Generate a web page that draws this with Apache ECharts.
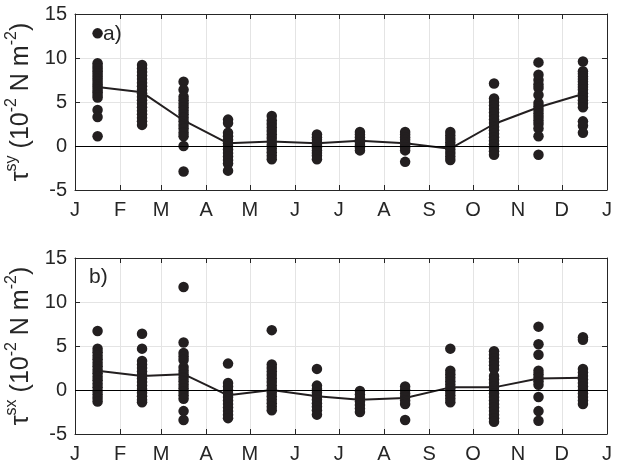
<!DOCTYPE html>
<html>
<head>
<meta charset="utf-8">
<script src="https://cdn.jsdelivr.net/npm/echarts@6/dist/echarts.min.js"></script>
<style>
  html, body { margin: 0; padding: 0; background: #ffffff; }
  #chart { width: 621px; height: 465px; }
</style>
</head>
<body>
<div id="chart"></div>
<script>
// Day-of-year axis: month boundaries carry the ticks, labels and grid lines
const monthStarts = [0, 31, 59, 90, 120, 151, 181, 212, 243, 273, 304, 334, 365];
const monthLabels = ['J', 'F', 'M', 'A', 'M', 'J', 'J', 'A', 'S', 'O', 'N', 'D', 'J'];
// Mid-month day at which each month's samples are plotted
const monthMid = [15.5, 46, 74.5, 105, 135, 166, 195.5, 226.5, 257.5, 287.5, 318, 348.5];
const yTicks = [-5, 0, 5, 10, 15];

// a) meridional wind stress samples per month (10^-2 N m^-2)
const tauSy = [
  [12.8, 9.4, 9.1, 8.8, 8.5, 8.2, 7.9, 7.6, 7.3, 7.0, 6.7, 6.4, 6.1, 5.8, 5.5, 4.1, 3.3, 1.1],
  [9.2, 8.8, 8.4, 8.0, 7.6, 7.2, 6.8, 6.4, 6.0, 5.6, 5.2, 4.8, 4.4, 4.0, 3.6, 3.2, 2.8, 2.4],
  [7.3, 6.4, 5.6, 5.2, 4.8, 4.4, 4.0, 3.6, 3.2, 2.8, 2.4, 2.0, 1.5, 1.1, 0.0, -2.9],
  [3.0, 2.6, 1.5, 1.1, 0.7, 0.3, 0.0, -0.4, -0.8, -1.2, -1.6, -2.0, -2.8],
  [3.4, 2.9, 2.5, 2.1, 1.7, 1.3, 0.9, 0.5, 0.1, -0.3, -0.7, -1.1, -1.5],
  [1.3, 1.0, 0.7, 0.4, 0.1, -0.2, -0.5, -0.8, -1.1, -1.5],
  [1.6, 1.3, 1.0, 0.7, 0.4, 0.1, -0.2, -0.5],
  [1.6, 1.3, 1.0, 0.7, 0.4, 0.1, -0.2, -0.5, -1.8],
  [1.6, 1.2, 0.8, 0.4, 0.0, -0.4, -0.8, -1.2, -1.6],
  [7.1, 5.4, 5.0, 4.6, 4.2, 3.8, 3.4, 3.0, 2.6, 2.2, 1.8, 1.4, 1.0, 0.6, 0.2, -0.2, -0.6, -1.0],
  [9.5, 8.1, 7.5, 7.0, 6.6, 5.8, 4.9, 4.5, 4.1, 3.7, 3.3, 2.9, 2.5, 2.0, 1.1, -1.0],
  [9.6, 8.5, 8.2, 7.9, 7.6, 7.3, 7.0, 6.7, 6.4, 6.0, 5.6, 5.2, 4.8, 4.4, 2.8, 2.3, 1.5]
];
const tauSyMean = [6.7, 6.1, 2.9, 0.3, 0.5, 0.3, 0.6, 0.3, -0.3, 2.5, 4.4, 5.9];

// b) zonal wind stress samples per month (10^-2 N m^-2)
const tauSx = [
  [6.7, 4.7, 4.3, 3.9, 3.5, 3.1, 2.7, 2.3, 1.9, 1.5, 1.1, 0.7, 0.3, -0.1, -0.5, -0.9, -1.3],
  [6.4, 4.7, 3.3, 2.9, 2.5, 2.1, 1.7, 1.3, 0.9, 0.5, 0.1, -0.3, -0.7, -1.1, -1.4],
  [11.7, 5.4, 4.2, 3.8, 3.4, 2.6, 2.2, 1.8, 1.4, 1.0, 0.6, 0.2, -0.2, -0.6, -1.0, -2.4, -3.4],
  [3.0, 0.8, 0.4, 0.0, -0.4, -0.8, -1.2, -1.6, -2.0, -2.4, -2.8, -3.2],
  [6.8, 2.9, 2.5, 2.1, 1.7, 1.3, 0.9, 0.5, 0.1, -0.3, -0.7, -1.1, -1.5, -1.9, -2.3],
  [2.4, 0.5, 0.1, -0.3, -0.7, -1.1, -1.5, -1.9, -2.3, -2.8],
  [-0.1, -0.5, -0.9, -1.3, -1.7, -2.1, -2.5],
  [0.4, 0.0, -0.4, -0.8, -1.2, -1.6, -3.4],
  [4.7, 2.2, 1.8, 1.4, 1.0, 0.6, 0.2, -0.2, -0.6, -1.0, -1.4],
  [4.4, 4.0, 3.6, 3.2, 2.8, 2.4, 1.6, 1.2, 0.8, 0.4, 0.0, -0.4, -0.8, -1.2, -1.6, -2.0, -2.4, -2.8, -3.2, -3.6],
  [7.2, 5.2, 4.0, 2.2, 1.8, 1.4, 1.0, 0.6, -0.8, -2.4, -3.5],
  [6.0, 5.7, 2.4, 2.0, 1.6, 1.2, 0.8, 0.4, 0.0, -0.4, -0.8, -1.2, -1.6]
];
const tauSxMean = [2.2, 1.6, 1.8, -0.6, 0.0, -0.7, -1.1, -0.9, 0.3, 0.3, 1.3, 1.4];

const FONT = 'Liberation Sans, Arial, Helvetica, sans-serif';
const INK = '#262626';
const DOT = '#231f20';
const GRIDLINE = '#e4e4e4';

function samplePoints(groups) {
  const pts = [];
  groups.forEach((vals, i) => vals.forEach(v => pts.push([monthMid[i], v])));
  return pts;
}
function meanPoints(means) {
  return means.map((v, i) => [monthMid[i], v]);
}

function xAxes(gridIndex) {
  const common = {
    type: 'value', gridIndex, min: 0, max: 365,
    axisLine: { show: true, onZero: false, lineStyle: { color: INK, width: 1 } },
    axisTick: { show: true, inside: true, length: 5, customValues: monthStarts, lineStyle: { color: INK } }
  };
  return [
    Object.assign({}, common, {
      position: 'bottom',
      axisLabel: {
        customValues: monthStarts,
        formatter: v => monthLabels[monthStarts.indexOf(v)],
        fontSize: 20, fontFamily: FONT, color: INK, margin: 10
      },
      splitLine: { show: true, lineStyle: { color: GRIDLINE, width: 1 } }
    }),
    Object.assign({}, common, {
      position: 'top',
      axisLabel: { show: false },
      splitLine: { show: false }
    })
  ];
}

function yAxes(gridIndex, comp) {
  const common = {
    type: 'value', gridIndex, min: yTicks[0], max: yTicks[yTicks.length - 1], interval: 5,
    axisLine: { show: true, onZero: false, lineStyle: { color: INK, width: 1 } },
    axisTick: { show: true, inside: true, length: 5, lineStyle: { color: INK } }
  };
  return [
    Object.assign({}, common, {
      position: 'left',
      axisLabel: { fontSize: 20, fontFamily: FONT, color: INK, margin: 8 },
      splitLine: { show: true, lineStyle: { color: GRIDLINE, width: 1 } },
      name: '{t|τ}{s|' + comp + '}{m| (10}{s|-2}{m| N m}{s|-2}{m|)}',
      nameLocation: 'middle',
      nameRotate: 90,
      nameGap: 32,
      nameTextStyle: {
        fontFamily: FONT, color: INK,
        rich: {
          t: { fontSize: 25, fontFamily: FONT, color: INK, lineHeight: 30, verticalAlign: 'bottom' },
          m: { fontSize: 25, fontFamily: FONT, color: INK, lineHeight: 30, verticalAlign: 'bottom' },
          s: { fontSize: 16, fontFamily: FONT, color: INK, lineHeight: 16, verticalAlign: 'top' }
        }
      }
    }),
    Object.assign({}, common, {
      position: 'right',
      axisLabel: { show: false },
      splitLine: { show: false }
    })
  ];
}

function panelSeries(axisBase, samples, means) {
  return [
    {
      type: 'scatter',
      xAxisIndex: axisBase, yAxisIndex: axisBase,
      data: samplePoints(samples),
      symbol: 'circle', symbolSize: 10.5,
      itemStyle: { color: DOT, opacity: 1 },
      silent: true, z: 3,
      markLine: {
        silent: true, symbol: 'none', label: { show: false },
        lineStyle: { color: '#000000', width: 1, type: 'solid' },
        data: [{ yAxis: 0 }],
        animation: false
      }
    },
    {
      type: 'line',
      xAxisIndex: axisBase, yAxisIndex: axisBase,
      data: meanPoints(means),
      symbol: 'none',
      lineStyle: { color: DOT, width: 2 },
      silent: true, z: 4
    }
  ];
}

const chart = echarts.init(document.getElementById('chart'), null, { renderer: 'canvas' });
chart.setOption({
  animation: false,
  backgroundColor: '#ffffff',
  grid: [
    { left: 75, right: 14, top: 14, height: 176, containLabel: false, outerBoundsMode: 'none' },
    { left: 75, right: 14, top: 258, height: 176, containLabel: false, outerBoundsMode: 'none' }
  ],
  xAxis: xAxes(0).concat(xAxes(1)),
  yAxis: yAxes(0, 'sy').concat(yAxes(1, 'sx')),
  series: panelSeries(0, tauSy, tauSyMean).concat(panelSeries(2, tauSx, tauSxMean)),
  graphic: [
    { type: 'text', left: 103, top: 24, z: 10,
      style: { text: 'a)', fontSize: 21, fontFamily: FONT, fill: INK } },
    { type: 'text', left: 89, top: 267, z: 10,
      style: { text: 'b)', fontSize: 21, fontFamily: FONT, fill: INK } }
  ]
});
</script>
</body>
</html>
